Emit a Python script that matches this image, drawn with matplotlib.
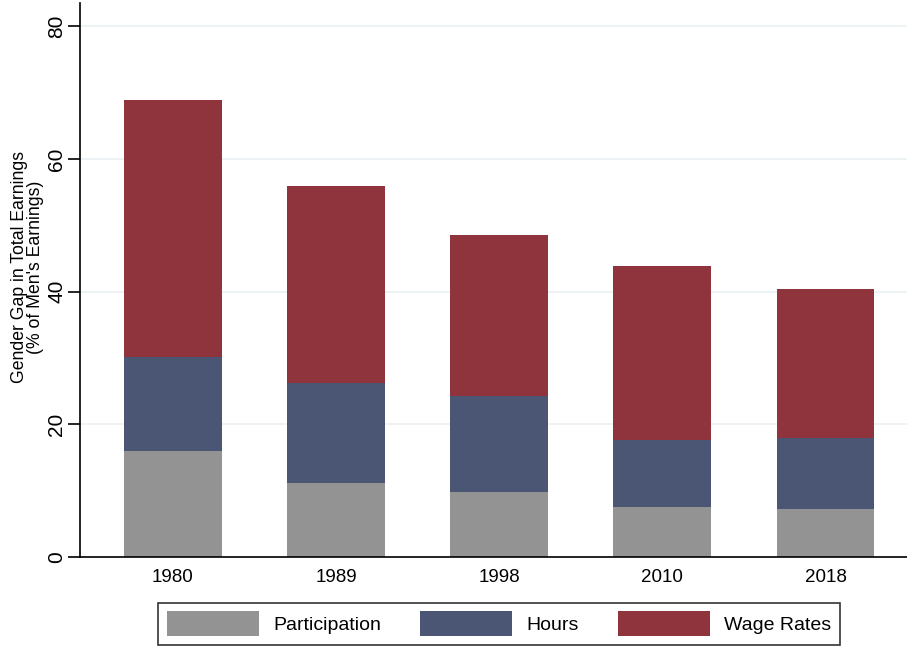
import numpy as np
from matplotlib import pyplot as plt

plt.rcParams['font.family'] = ['Liberation Sans', 'DejaVu Sans']

years = ['1980', '1989', '1998', '2010', '2018']
participation = [16.0, 11.2, 9.8, 7.5, 7.2]
hours = [14.1, 15.0, 14.5, 10.1, 10.7]
wage_rates = [38.8, 29.7, 24.2, 26.3, 22.5]

c_part = '#939393'
c_hours = '#4b5674'
c_wage = '#8f343d'

fig = plt.figure(figsize=(9.07, 6.46), dpi=100)
ax = fig.add_axes([80/907, (646-557)/646, (907-80)/907, (557-3)/646])

x = np.arange(len(years))
part = np.array(participation)
hrs = np.array(hours)
wage = np.array(wage_rates)

ax.bar(x, part, width=0.6, color=c_part, label='Participation', zorder=2)
ax.bar(x, hrs, width=0.6, bottom=part, color=c_hours, label='Hours', zorder=2)
ax.bar(x, wage, width=0.6, bottom=part + hrs, color=c_wage, label='Wage Rates', zorder=2)

ax.set_xlim(-0.57, 4.5)
ax.set_ylim(0, 83.5)
ax.set_yticks([0, 20, 40, 60, 80])
ax.set_xticks(x)
ax.set_xticklabels(years)
ax.grid(axis='y', color='#eaf0f3', linewidth=1.2, zorder=0)
ax.set_axisbelow(True)

for s in ['top', 'right']:
    ax.spines[s].set_visible(False)
ax.spines['left'].set_linewidth(1.2)
ax.spines['bottom'].set_linewidth(1.2)

ax.tick_params(axis='y', length=9, width=1.2, labelsize=15, labelrotation=90, pad=1)
ax.tick_params(axis='x', length=0, labelsize=13.5, pad=9)
for lab in ax.get_yticklabels():
    lab.set_va('center')

ax.set_ylabel('Gender Gap in Total Earnings\n(% of Men\'s Earnings)', fontsize=12.7,
              linespacing=0.95)
ax.yaxis.set_label_coords(-0.043, 0.523)

leg = fig.legend(loc='lower center', bbox_to_anchor=(499/907, 1/646), ncol=3,
                 frameon=True, fancybox=False, edgecolor='black', fontsize=14,
                 handlelength=4.75, handleheight=1.6, columnspacing=2.0,
                 handletextpad=0.72, borderpad=0.45, borderaxespad=0)
leg.get_frame().set_linewidth(1.2)

plt.savefig('out.png', dpi=100)
